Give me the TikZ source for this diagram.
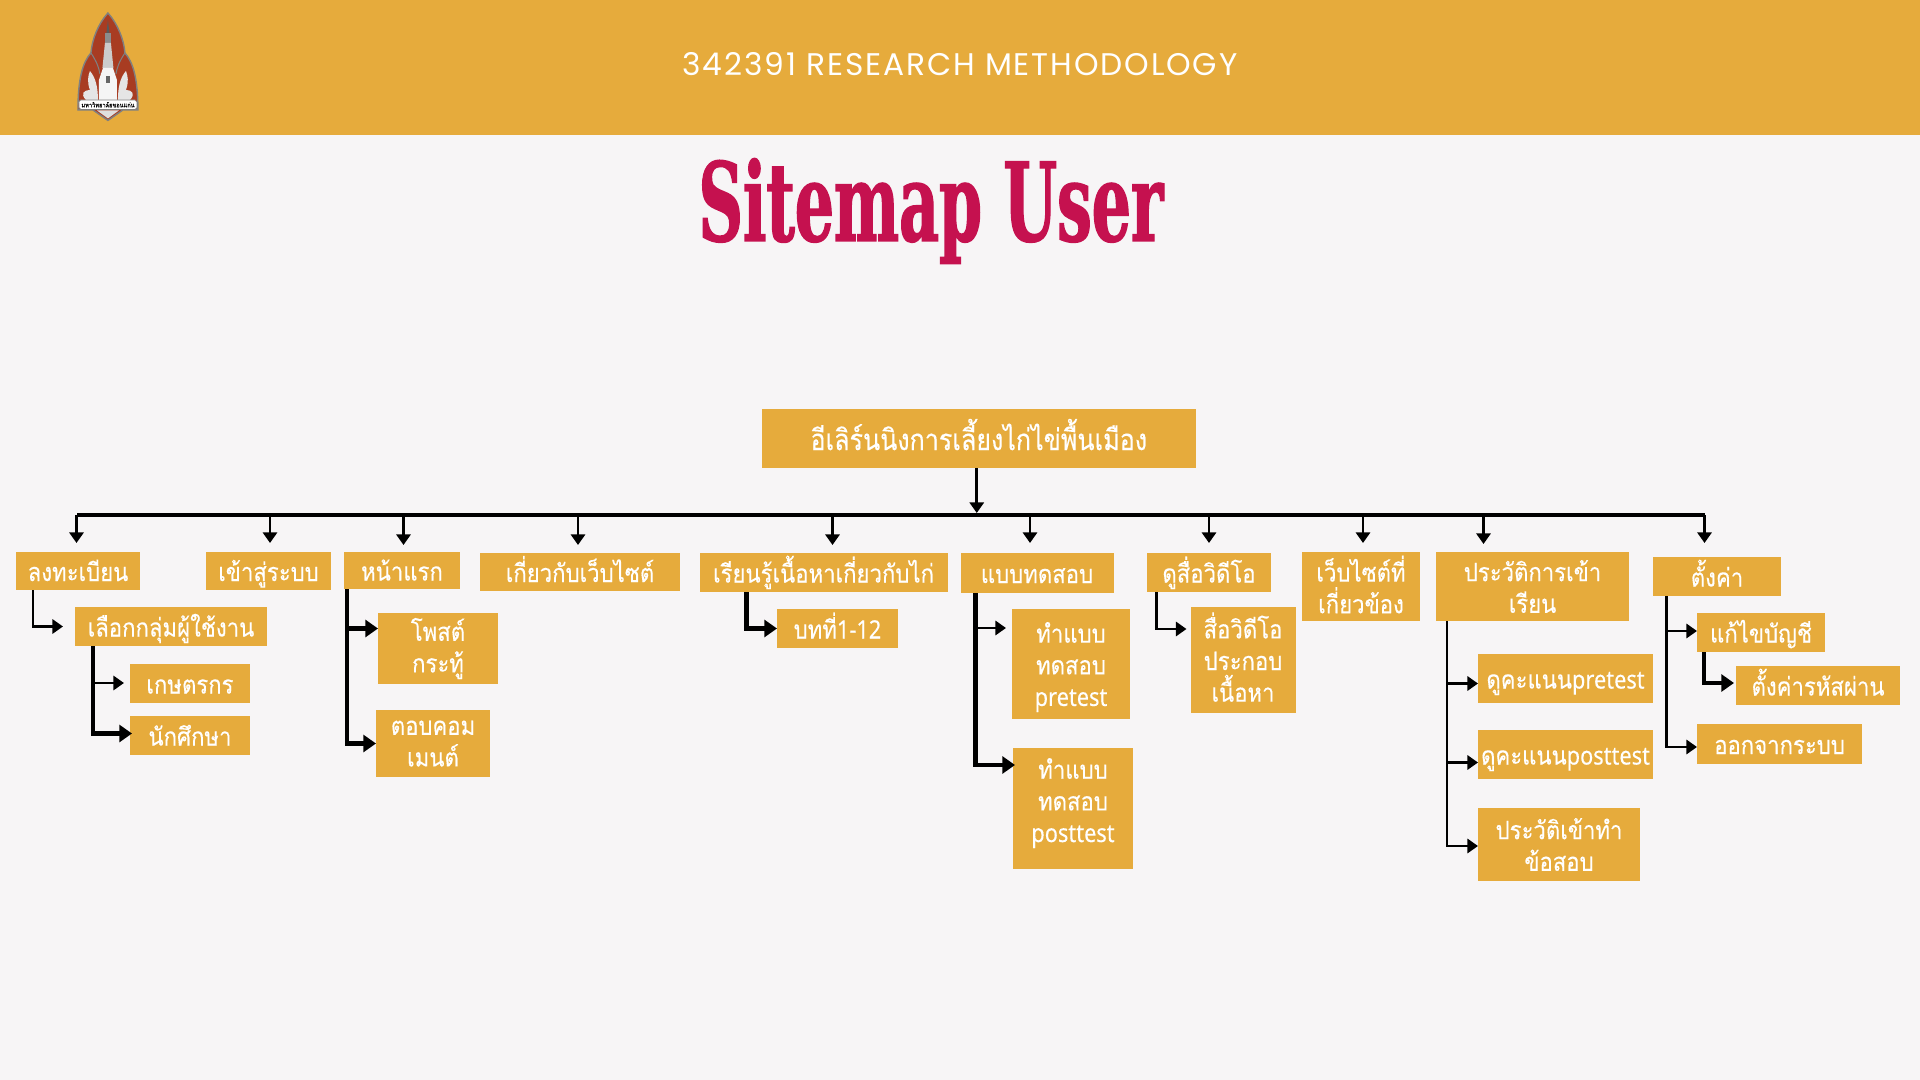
\documentclass[tikz,border=0pt]{standalone}
\usepackage{fontspec}
\usetikzlibrary{arrows.meta,positioning}
\newfontfamily\thaifont[Script=Thai,FakeStretch=0.875,FakeBold=0.25]{Loma}
\newfontfamily\rootfont[Script=Thai,FakeStretch=0.85,FakeBold=0.3]{Loma}
\newfontfamily\latfont[FakeStretch=0.86,FakeBold=0.2]{Noto Sans}
\newfontfamily\headfont[LetterSpace=6]{Poppins}
\newfontfamily\titlefont[FakeStretch=0.565,FakeBold=1.2]{DejaVu Serif}
\definecolor{band}{HTML}{E6AB3C}
\definecolor{page}{HTML}{F7F5F6}
\definecolor{crimson}{HTML}{C5114F}
\definecolor{shield}{HTML}{A83C22}
\tikzstyle{block} = [rectangle, fill=band, text=white, align=center, inner sep=0pt,
    outer sep=0pt, font=\thaifont\fontsize{7.2}{9}\selectfont]
\tikzstyle{single} = [block, text height=6.5pt, text depth=0.8pt]
\tikzstyle{line} = [draw, black, line width=0.8pt, -{Triangle[length=3pt,width=4pt]}]
\tikzstyle{hline} = [draw, black, line width=1.2pt, -{Triangle[length=3.6pt,width=4.8pt]}]

\begin{document}
\begin{tikzpicture}[node distance = 1cm]
        \useasboundingbox (0,0) rectangle (19.2,-10.8);
        \fill [page] (0,0) rectangle (19.2,-10.8);
        \fill [band] (0,0) rectangle (19.2,-1.35);
        % Logo
        \begin{scope}[x=0.01cm,y=-0.01cm]
            \draw [fill=shield, draw=gray, line width=0.4pt] (108,13)
                .. controls (98,24) and (92,40) .. (91,53)
                .. controls (83,62) and (78,78) .. (78,110)
                -- (93,110) -- (108,120.5) -- (123,110) -- (138,110)
                .. controls (138,78) and (133,62) .. (125,53)
                .. controls (124,40) and (118,24) .. (108,13) -- cycle;
            \draw [gray, line width=0.3pt] (91,53) .. controls (97,62) and (99,68) .. (100,74);
            \draw [gray, line width=0.3pt] (125,53) .. controls (119,62) and (117,68) .. (116,74);
            \fill [black!65] (108,20) -- (109.5,33) -- (106.5,33) -- cycle;
            \fill [black!45] (105,33) rectangle (111,43);
            \fill [white!60!gray] (105,43) -- (111,43) -- (113.5,68) -- (102.5,68) -- cycle;
            \fill [white!92!gray] (103,68) -- (113,68) -- (117,80) -- (117,100) -- (99,100) -- (99,80) -- cycle;
            \fill [black!60] (106,76) rectangle (110,83);
            \fill [white!80!gray] (86,100) .. controls (80,94) and (84,90) .. (90,90)
                .. controls (87,82) and (88,76) .. (90,71) .. controls (96,78) and (98,88) .. (98,100) -- cycle;
            \fill [white!80!gray] (130,100) .. controls (136,94) and (132,90) .. (126,90)
                .. controls (129,82) and (128,76) .. (126,71) .. controls (120,78) and (118,88) .. (118,100) -- cycle;
            \draw [fill=white, draw=gray, line width=0.2pt, rounded corners=0.5pt] (79,100) rectangle (137,109.5);
            \fill [white!75!gray] (97,110.5) -- (119,110.5) -- (108,118.5) -- cycle;
        \end{scope}
        \node [text=black, font=\thaifont\fontsize{1.85}{2.4}\selectfont, inner sep=0pt] (logotext) at (1.08,-1.048) {มหาวิทยาลัยขอนแก่น};
        % Titles
        \node [text=white, anchor=base, inner sep=0pt, font=\headfont\fontsize{8.9}{10}\selectfont] (course) at (9.6,-0.76) {342391 RESEARCH METHODOLOGY};
        \node [text=crimson, anchor=base, inner sep=0pt, font=\titlefont\bfseries\fontsize{31}{36}\selectfont] (title) at (9.31,-2.41) {Sitemap User};
        % Place nodes
        \node [block, minimum width=4.345cm, minimum height=0.59cm, anchor=north west, text height=8pt, text depth=1.4pt,
            font=\rootfont\fontsize{8.4}{10}\selectfont] (root) at (7.615,-4.09) {อีเลิร์นนิงการเลี้ยงไก่ไข่พื้นเมือง};
        \node [single, minimum width=1.24cm, minimum height=0.38cm, anchor=north west] (regis) at (0.16,-5.52) {ลงทะเบียน};
        \node [single, minimum width=1.25cm, minimum height=0.38cm, below right=0cm and 0.66cm of regis.north east] (login) {เข้าสู่ระบบ};
        \node [single, minimum width=1.16cm, minimum height=0.37cm, below right=0cm and 0.13cm of login.north east] (home) {หน้าแรก};
        \node [single, minimum width=2.00cm, minimum height=0.38cm, below right=0.01cm and 0.20cm of home.north east] (about) {เกี่ยวกับเว็บไซต์};
        \node [single, minimum width=2.48cm, minimum height=0.39cm, below right=0cm and 0.195cm of about.north east] (learn) {เรียนรู้เนื้อหาเกี่ยวกับไก่};
        \node [single, minimum width=1.53cm, minimum height=0.40cm, below right=0cm and 0.13cm of learn.north east] (quiz) {แบบทดสอบ};
        \node [single, minimum width=1.24cm, minimum height=0.39cm, below right=0cm and 0.335cm of quiz.north east] (video) {ดูสื่อวิดีโอ};
        \node [block, minimum width=1.18cm, minimum height=0.69cm, text depth=1.2pt, below right=-0.01cm and 0.31cm of video.north east] (links) {เว็บไซต์ที่\\เกี่ยวข้อง};
        \node [block, minimum width=1.93cm, minimum height=0.69cm, below right=0cm and 0.16cm of links.north east] (history) {ประวัติการเข้า\\เรียน};
        \node [single, minimum width=1.28cm, minimum height=0.39cm, below right=0.05cm and 0.24cm of history.north east] (setting) {ตั้งค่า};
        \node [single, minimum width=1.92cm, minimum height=0.39cm, below right=0.17cm and 0.59cm of regis.south west] (group) {เลือกกลุ่มผู้ใช้งาน};
        \node [single, minimum width=1.20cm, minimum height=0.39cm, below right=0.18cm and 0.55cm of group.south west] (farmer) {เกษตรกร};
        \node [single, minimum width=1.20cm, minimum height=0.39cm, below right=0.13cm and 0cm of farmer.south west] (student) {นักศึกษา};
        \node [block, minimum width=1.20cm, minimum height=0.71cm, below right=0.24cm and 0.34cm of home.south west] (post) {โพสต์\\กระทู้};
        \node [block, minimum width=1.14cm, minimum height=0.67cm, text depth=-0.5pt, below right=0.26cm and -0.02cm of post.south west] (reply) {ตอบคอม\\เมนต์};
        \node [single, minimum width=1.21cm, minimum height=0.39cm, below right=0.17cm and 0.775cm of learn.south west] (lesson) {บทที่{\latfont 1-12}};
        \node [block, minimum width=1.18cm, minimum height=1.10cm, text depth=-2pt, below right=0.16cm and 0.515cm of quiz.south west] (pre) {ทำแบบ\\ทดสอบ\\{\latfont pretest}};
        \node [block, minimum width=1.20cm, minimum height=1.21cm, text depth=4.8pt, below right=0.29cm and 0.01cm of pre.south west] (postt) {ทำแบบ\\ทดสอบ\\{\latfont posttest}};
        \node [block, minimum width=1.05cm, minimum height=1.06cm, text depth=1.7pt, below right=0.15cm and 0.435cm of video.south west] (media) {สื่อวิดีโอ\\ประกอบ\\เนื้อหา};
        \node [single, minimum width=1.75cm, minimum height=0.49cm, below right=0.33cm and 0.42cm of history.south west] (scorea) {ดูคะแนน{\latfont pretest}};
        \node [single, minimum width=1.75cm, minimum height=0.49cm, below right=0.27cm and 0cm of scorea.south west] (scoreb) {ดูคะแนน{\latfont posttest}};
        \node [block, minimum width=1.62cm, minimum height=0.73cm, below right=0.29cm and 0cm of scoreb.south west] (exam) {ประวัติเข้าทำ\\ข้อสอบ};
        \node [single, minimum width=1.28cm, minimum height=0.39cm, below right=0.17cm and 0.44cm of setting.south west] (account) {แก้ไขบัญชี};
        \node [single, minimum width=1.64cm, minimum height=0.39cm, below right=0.14cm and 0.39cm of account.south west] (passwd) {ตั้งค่ารหัสผ่าน};
        \node [single, minimum width=1.65cm, minimum height=0.40cm, below right=0.72cm and 0cm of account.south west] (logout) {ออกจากระบบ};
        % Draw edges
        \coordinate (busl) at (0.77,-5.15);
        \coordinate (busr) at (17.045,-5.15);
        \draw [black, line width=0.9pt] (busl) -- (busr);
        \path [line] ([xshift=-0.02cm]root.south) -- ([xshift=-0.02cm,yshift=0.02cm]root.south |- busl);
        \path [line] ([xshift=-0.015cm]regis.north |- busl) -- ([xshift=-0.015cm,yshift=0.09cm]regis.north);
        \path [line] ([xshift=0.015cm]login.north |- busl) -- ([xshift=0.015cm,yshift=0.09cm]login.north);
        \path [line] ([xshift=0.015cm]home.north |- busl) -- ([xshift=0.015cm,yshift=0.07cm]home.north);
        \path [line] ([xshift=-0.02cm]about.north |- busl) -- ([xshift=-0.02cm,yshift=0.08cm]about.north);
        \path [line] ([xshift=0.09cm]learn.north |- busl) -- ([xshift=0.09cm,yshift=0.08cm]learn.north);
        \path [line] ([xshift=-0.07cm]quiz.north |- busl) -- ([xshift=-0.07cm,yshift=0.10cm]quiz.north);
        \path [line] (video.north |- busl) -- ([yshift=0.10cm]video.north);
        \path [line] ([xshift=0.02cm]links.north |- busl) -- ([xshift=0.02cm,yshift=0.09cm]links.north);
        \path [line] ([xshift=-0.49cm]history.north |- busl) -- ([xshift=-0.49cm,yshift=0.08cm]history.north);
        \path [line] ([xshift=-0.125cm]setting.north |- busl) -- ([xshift=-0.125cm,yshift=0.14cm]setting.north);
        \path [line] ([xshift=0.17cm]regis.south west) |- ([xshift=-0.12cm]group.west);
        \path [line] ([xshift=0.18cm]group.south west) |- ([xshift=-0.06cm,yshift=0.005cm]farmer.west);
        \path [hline] ([xshift=0.18cm]group.south west) |- ([xshift=0.02cm,yshift=0.02cm]student.west);
        \path [hline] ([xshift=0.03cm]home.south west) |- ([yshift=0.20cm]post.west);
        \path [hline] ([xshift=0.03cm]home.south west) |- (reply.west);
        \path [hline] ([xshift=0.47cm]learn.south west) |- ([yshift=0cm]lesson.west);
        \path [line] ([xshift=0.15cm]quiz.south west) |- ([xshift=-0.06cm,yshift=0.36cm]pre.west);
        \path [hline] ([xshift=0.15cm]quiz.south west) |- ([xshift=0.02cm,yshift=0.435cm]postt.west);
        \path [line] ([xshift=0.095cm]video.south west) |- ([xshift=-0.04cm,yshift=0.31cm]media.west);
        \path [line] ([xshift=0.11cm]history.south west) |- ([yshift=-0.05cm]scorea.west);
        \path [line] ([xshift=0.11cm]history.south west) |- ([yshift=-0.08cm]scoreb.west);
        \path [line] ([xshift=0.11cm]history.south west) |- ([yshift=-0.015cm]exam.west);
        \path [line] ([xshift=0.135cm]setting.south west) |- ([yshift=0.015cm]account.west);
        \path [line] ([xshift=0.135cm]setting.south west) |- ([yshift=-0.03cm]logout.west);
        \path [hline] ([xshift=0.07cm]account.south west) |- ([xshift=-0.02cm,yshift=0.025cm]passwd.west);
    \end{tikzpicture}
\end{document}
